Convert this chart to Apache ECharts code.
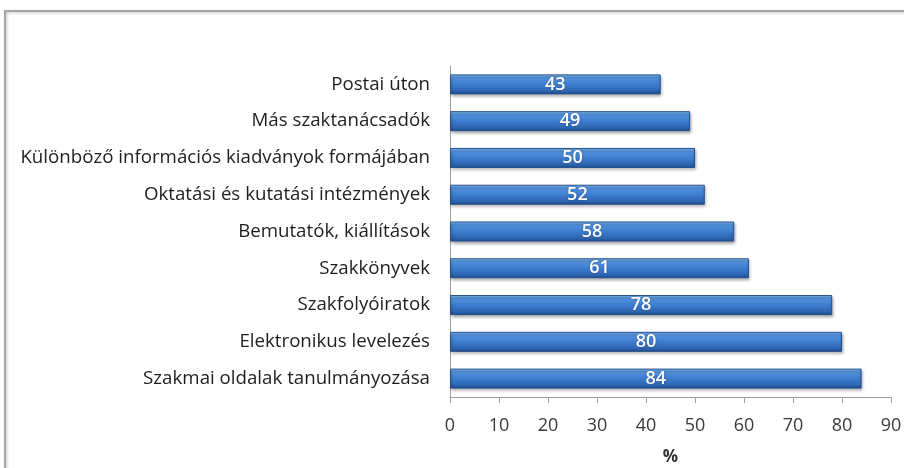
<!DOCTYPE html>
<html>
<head>
<meta charset="utf-8">
<script src="https://cdn.jsdelivr.net/npm/echarts@6/dist/echarts.min.js"></script>
<style>
  html, body { margin: 0; padding: 0; background: #fff; }
  #chart { width: 904px; height: 468px; }
</style>
</head>
<body>
<div id="chart"></div>
<script>
// Information sources, bottom to top as drawn on the category axis
const categories = [
  'Szakmai oldalak tanulmányozása',
  'Elektronikus levelezés',
  'Szakfolyóiratok',
  'Szakkönyvek',
  'Bemutatók, kiállítások',
  'Oktatási és kutatási intézmények',
  'Különböző információs kiadványok formájában',
  'Más szaktanácsadók',
  'Postai úton'
];
const values = [84, 80, 78, 61, 58, 52, 50, 49, 43];
const xTicks = [0, 10, 20, 30, 40, 50, 60, 70, 80, 90];
const axisTitle = '%';

const chart = echarts.init(document.getElementById('chart'));

const barFill = new echarts.graphic.LinearGradient(0, 0, 0, 1, [
  { offset: 0, color: '#9ccaf6' },
  { offset: 0.14, color: '#5595e0' },
  { offset: 0.55, color: '#3b79cb' },
  { offset: 0.85, color: '#2c63ae' },
  { offset: 1, color: '#1d4784' }
]);

chart.setOption({
  animation: false,
  textStyle: { fontFamily: 'Open Sans, Lato, sans-serif' },
  graphic: [{
    type: 'rect',
    shape: { x: 5, y: 11, width: 910, height: 470 },
    style: { fill: 'none', stroke: '#a6a6a6', lineWidth: 2,
             shadowColor: 'rgba(0,0,0,0.25)', shadowBlur: 3, shadowOffsetX: 1, shadowOffsetY: 1 }
  }],
  grid: { left: 450, right: 13, top: 66, bottom: 71, containLabel: false, outerBoundsMode: 'none' },
  xAxis: {
    type: 'value',
    min: xTicks[0],
    max: xTicks[xTicks.length - 1],
    interval: 10,
    name: axisTitle,
    nameLocation: 'middle',
    nameGap: 52,
    nameTextStyle: { fontSize: 17, fontWeight: 'bold', color: '#333' },
    axisLine: { show: true, lineStyle: { color: '#a0a0a0', width: 1 } },
    axisTick: { show: true, length: 6, lineStyle: { color: '#a0a0a0' } },
    axisLabel: { fontSize: 18, color: '#3a3a3a', margin: 20 },
    splitLine: { show: false }
  },
  yAxis: {
    type: 'category',
    data: categories,
    axisLine: { show: true, lineStyle: { color: '#a0a0a0', width: 1 } },
    axisTick: { show: false },
    axisLabel: { fontSize: 18.7, color: '#1e1e1e', margin: 20 }
  },
  series: [{
    type: 'bar',
    data: values,
    barWidth: 20,
    itemStyle: {
      color: barFill,
      borderColor: '#24508f',
      borderWidth: 1,
      shadowColor: 'rgba(0,0,0,0.35)',
      shadowBlur: 3,
      shadowOffsetX: 1,
      shadowOffsetY: 2
    },
    label: {
      show: true,
      position: 'inside',
      color: '#fff',
      fontSize: 18,
      fontWeight: 600,
      textShadowColor: 'rgba(0,0,0,0.3)',
      textShadowBlur: 2
    }
  }]
});
</script>
</body>
</html>
